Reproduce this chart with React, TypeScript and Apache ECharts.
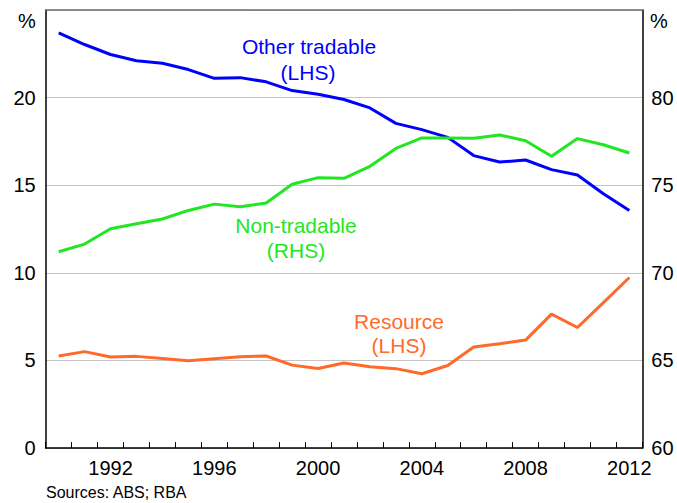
import React, { useEffect, useRef } from "react";
import * as echarts from "echarts";

const years = [
  "1990", "1991", "1992", "1993", "1994", "1995", "1996", "1997", "1998", "1999",
  "2000", "2001", "2002", "2003", "2004", "2005", "2006", "2007", "2008", "2009",
  "2010", "2011", "2012",
];
const otherTradable = [
  23.7, 23.03, 22.46, 22.1, 21.96, 21.6, 21.1, 21.14, 20.9, 20.4,
  20.19, 19.89, 19.41, 18.53, 18.17, 17.73, 16.69, 16.32, 16.44, 15.89,
  15.58, 14.51, 13.56,
];
const nonTradable = [
  71.2, 71.64, 72.51, 72.8, 73.07, 73.56, 73.92, 73.77, 73.98, 75.05,
  75.43, 75.39, 76.08, 77.1, 77.7, 77.7, 77.68, 77.87, 77.54, 76.65,
  77.66, 77.31, 76.84,
];
const resource = [
  5.25, 5.5, 5.19, 5.23, 5.11, 4.98, 5.1, 5.21, 5.25, 4.73,
  4.54, 4.85, 4.64, 4.53, 4.24, 4.71, 5.76, 5.95, 6.16, 7.64,
  6.88, 8.3, 9.73,
];
const labeledYears = ["1992", "1996", "2000", "2004", "2008", "2012"];

const BLUE = "#0000ff";
const GREEN = "#22e622";
const ORANGE = "#ff6a2a";
const FONT = "'Liberation Sans', Arial, sans-serif";

export default function App() {
  const ref = useRef<HTMLDivElement>(null);
  useEffect(() => {
    if (!ref.current) return;
    const chart = echarts.init(ref.current, undefined, { renderer: "svg" });
    const txt = (text: string, x: number, y: number, color: string, size: number, align = "center") => ({
      type: "text",
      x,
      y,
      style: {
        text,
        fill: color,
        fontSize: size,
        fontFamily: FONT,
        textAlign: align,
        textVerticalAlign: "middle",
      },
    });
    chart.setOption({
      animation: false,
      backgroundColor: "#ffffff",
      textStyle: { fontFamily: FONT },
      grid: { left: 45.7, right: 34.7, top: 10, bottom: 55, containLabel: false },
      xAxis: [
        {
          type: "category",
          data: years,
          boundaryGap: true,
          position: "bottom",
          axisLine: { show: true, lineStyle: { color: "#000", width: 1.5 } },
          axisTick: {
            show: true,
            inside: true,
            length: 6,
            interval: 0,
            alignWithLabel: false,
            lineStyle: { color: "#000", width: 1 },
          },
          axisLabel: {
            interval: 0,
            margin: 10,
            color: "#000",
            fontSize: 20,
            fontFamily: FONT,
            formatter: (v: string) => (labeledYears.includes(v) ? v : ""),
          },
          splitLine: { show: false },
        },
        {
          type: "category",
          data: years,
          position: "top",
          axisLine: { show: true, lineStyle: { color: "#6e6e6e", width: 1.5 } },
          axisTick: { show: false },
          axisLabel: { show: false },
        },
      ],
      yAxis: [
        {
          type: "value",
          min: 0,
          max: 25,
          interval: 5,
          position: "left",
          axisLine: { show: true, lineStyle: { color: "#000", width: 1.5 } },
          axisTick: { show: false },
          axisLabel: {
            showMaxLabel: false,
            margin: 10,
            color: "#000",
            fontSize: 20,
            fontFamily: FONT,
          },
          splitLine: { show: true, lineStyle: { color: "#c4c4c4", width: 1 } },
        },
        {
          type: "value",
          min: 60,
          max: 85,
          interval: 5,
          position: "right",
          axisLine: { show: true, lineStyle: { color: "#000", width: 1.5 } },
          axisTick: { show: false },
          axisLabel: {
            showMaxLabel: false,
            margin: 9,
            color: "#000",
            fontSize: 20,
            fontFamily: FONT,
          },
          splitLine: { show: false },
        },
      ],
      series: [
        {
          name: "Other tradable",
          type: "line",
          data: otherTradable,
          yAxisIndex: 0,
          showSymbol: false,
          lineStyle: { color: BLUE, width: 3 },
          itemStyle: { color: BLUE },
        },
        {
          name: "Non-tradable",
          type: "line",
          data: nonTradable,
          yAxisIndex: 1,
          showSymbol: false,
          lineStyle: { color: GREEN, width: 3 },
          itemStyle: { color: GREEN },
        },
        {
          name: "Resource",
          type: "line",
          data: resource,
          yAxisIndex: 0,
          showSymbol: false,
          lineStyle: { color: ORANGE, width: 3 },
          itemStyle: { color: ORANGE },
        },
      ],
      graphic: [
        txt("%", 27, 21, "#000", 20),
        txt("%", 659, 21, "#000", 20),
        txt("Other tradable", 309, 46, BLUE, 21),
        txt("(LHS)", 308, 72, BLUE, 21),
        txt("Non-tradable", 296, 225, GREEN, 21),
        txt("(RHS)", 296, 250, GREEN, 21),
        txt("Resource", 399, 321, ORANGE, 21),
        txt("(LHS)", 399, 345, ORANGE, 21),
        txt("Sources: ABS; RBA", 46, 492, "#000", 16, "left"),
      ],
    });
    return () => chart.dispose();
  }, []);
  return (
    <div
      ref={ref}
      style={{ position: "fixed", left: 0, top: 0, width: 677, height: 503, background: "#fff" }}
    />
  );
}
